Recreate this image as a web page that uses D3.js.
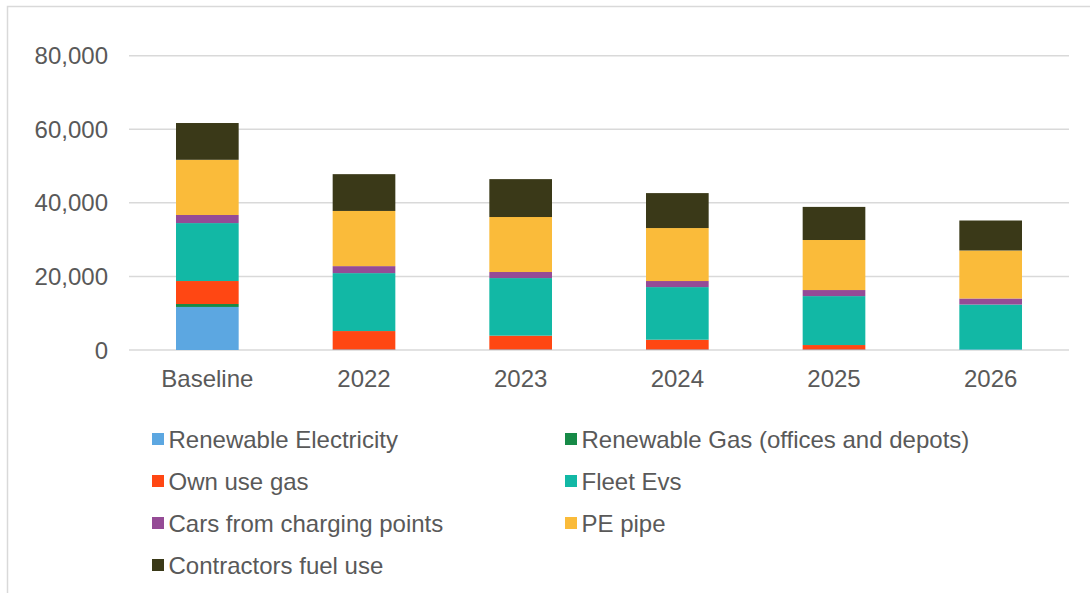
<!DOCTYPE html>
<html>
<head>
<meta charset="utf-8">
<script src="https://cdn.jsdelivr.net/npm/d3@7"></script>
<style>
  html, body { margin: 0; padding: 0; background: #fff; }
  svg { display: block; font-family: "Liberation Sans", Arial, sans-serif; }
</style>
</head>
<body>
<svg id="chart" width="1090" height="593"></svg>
<script>
// Categories along the x axis
const categories = ["Baseline", "2022", "2023", "2024", "2025", "2026"];

// Series names (stack order, bottom to top)
const seriesNames = [
  "Renewable Electricity",
  "Renewable Gas (offices and depots)",
  "Own use gas",
  "Fleet Evs",
  "Cars from charging points",
  "PE pipe",
  "Contractors fuel use"
];

// Values per series, one per category
const renewableElectricity = [11700, 150, 150, 150, 150, 150];
const renewableGas         = [800, 0, 0, 0, 0, 0];
const ownUseGas            = [6250, 5000, 3750, 2650, 1200, 0];
const fleetEvs             = [15750, 15750, 15650, 14300, 13300, 12200];
const carsFromCharging     = [2200, 1900, 1650, 1650, 1650, 1650];
const pePipe               = [15000, 15000, 14950, 14400, 13600, 13050];
const contractorsFuel      = [10000, 10000, 10300, 9500, 9000, 8150];

// Y axis tick values
const yTicks = [0, 20000, 40000, 60000, 80000];

const seriesValues = [
  renewableElectricity, renewableGas, ownUseGas, fleetEvs,
  carsFromCharging, pePipe, contractorsFuel
];

const colors = ["#5ca7e1", "#178a47", "#ff4713", "#12b8a5", "#954b96", "#fabb3a", "#3a3918"];

const rows = categories.map((c, i) => {
  const r = { category: c };
  seriesNames.forEach((s, j) => { r[s] = seriesValues[j][i]; });
  return r;
});

const svg = d3.select("#chart");
const textColor = "#595959";
const gridColor = "#d9d9d9";
const fontSize = 24;

// Chart frame
svg.append("rect")
  .attr("x", 7.5).attr("y", 6.5)
  .attr("width", 1200).attr("height", 800)
  .attr("fill", "none").attr("stroke", gridColor).attr("stroke-width", 1.5);

const x = d3.scaleBand()
  .domain(categories)
  .range([129, 1069])
  .paddingInner(0.6)
  .paddingOuter(0.3);

const y = d3.scaleLinear()
  .domain([0, 80000])
  .range([350, 55.7]);

// Gridlines
svg.append("g")
  .selectAll("line")
  .data(yTicks)
  .join("line")
  .attr("x1", 129).attr("x2", 1069)
  .attr("y1", d => y(d)).attr("y2", d => y(d))
  .attr("stroke", gridColor).attr("stroke-width", 1.5);

// Y axis labels
const fmt = d3.format(",");
svg.append("g")
  .selectAll("text")
  .data(yTicks)
  .join("text")
  .attr("x", 108)
  .attr("y", d => y(d))
  .attr("dy", "0.36em")
  .attr("text-anchor", "end")
  .attr("font-size", fontSize)
  .attr("fill", textColor)
  .text(d => fmt(d));

// Stacked bars
const stack = d3.stack().keys(seriesNames);
const layers = stack(rows);

svg.append("g")
  .selectAll("g")
  .data(layers)
  .join("g")
  .attr("fill", (d, i) => colors[i])
  .selectAll("rect")
  .data(d => d)
  .join("rect")
  .attr("x", d => x(d.data.category))
  .attr("width", x.bandwidth())
  .attr("y", d => y(d[1]))
  .attr("height", d => Math.max(0, y(d[0]) - y(d[1])));

// X axis labels
svg.append("g")
  .selectAll("text")
  .data(categories)
  .join("text")
  .attr("x", d => x(d) + x.bandwidth() / 2)
  .attr("y", 387)
  .attr("text-anchor", "middle")
  .attr("font-size", fontSize)
  .attr("fill", textColor)
  .text(d => d);

// Legend: two columns
const legendCols = [152, 565];
const legendRowY = [439, 481, 523, 565];
const legend = svg.append("g")
  .selectAll("g")
  .data(seriesNames)
  .join("g")
  .attr("transform", (d, i) => `translate(${legendCols[i % 2]},${legendRowY[Math.floor(i / 2)]})`);

legend.append("rect")
  .attr("x", 0).attr("y", -6)
  .attr("width", 12).attr("height", 12)
  .attr("fill", (d, i) => colors[i]);

legend.append("text")
  .attr("x", 16.5)
  .attr("y", 0)
  .attr("dy", "0.36em")
  .attr("font-size", fontSize)
  .attr("fill", textColor)
  .text(d => d);
</script>
</body>
</html>
